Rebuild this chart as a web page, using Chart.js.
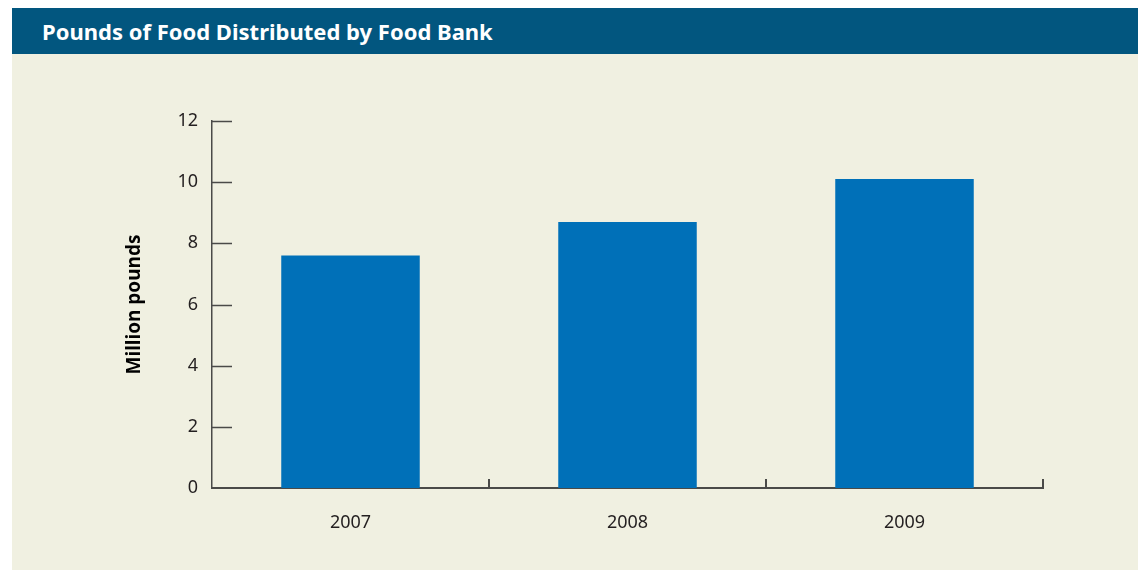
<!DOCTYPE html>
<html>
<head>
<meta charset="utf-8">
<script src="https://cdn.jsdelivr.net/npm/chart.js@4/dist/chart.umd.min.js"></script>
<style>
    body { margin: 0; background: #ffffff; width: 1138px; height: 571px; overflow: hidden; position: relative; }
    #panel { position: absolute; left: 12px; top: 8px; width: 1126px; height: 562px; background: #f0f0e1; }
    #titulo {
        position: absolute; left: 12px; top: 8px; width: 1126px; height: 46px;
        background: #02567f; color: #ffffff;
        font-family: 'Noto Sans', sans-serif; font-weight: bold; font-size: 22px;
        line-height: 46px; box-sizing: border-box; padding-left: 30px;
    }
    #grafico { position: absolute; left: 0; top: 0; }
</style>
</head>
<body>
<div id="panel"></div>
<div id="titulo">Pounds of Food Distributed by Food Bank</div>
<canvas id="grafico" width="1138" height="571"></canvas>
<script>
// dados
const anos = ['2007', '2008', '2009']
const milhoes_libras = [7.6, 8.7, 10.1]
const ticks_y = [0, 2, 4, 6, 8, 10, 12]

const cor_eixo = '#4a4a48'
const cor_texto = '#231f20'

// tracinhos para dentro (y) e para cima (x)
const tracos_internos = {
    id: 'tracos_internos',
    afterDraw(chart) {
        const ctx = chart.ctx
        const sx = chart.scales.x
        const sy = chart.scales.y
        const area = chart.chartArea
        ctx.save()
        ctx.strokeStyle = cor_eixo
        ctx.lineWidth = 1.5
        ticks_y.forEach(v => {
            if (v == 0) return
            const y = Math.round(sy.getPixelForValue(v)) + 0.5
            ctx.beginPath()
            ctx.moveTo(area.left, y)
            ctx.lineTo(area.left + 20, y)
            ctx.stroke()
        })
        ctx.lineWidth = 2
        for (let i = 1; i <= anos.length; i++) {
            const x = Math.round(sx.getPixelForValue(i - 0.5))
            ctx.beginPath()
            ctx.moveTo(x, area.bottom)
            ctx.lineTo(x, area.bottom - 9)
            ctx.stroke()
        }
        ctx.restore()
    }
}

const config = {
    type: 'bar',
    data: {
        labels: anos,
        datasets: [{
            data: milhoes_libras,
            backgroundColor: '#0070b8',
            borderWidth: 0,
            categoryPercentage: 1,
            barPercentage: 0.5
        }]
    },
    options: {
        responsive: false,
        animation: false,
        layout: { padding: { top: 121, right: 95, left: 0, bottom: 0 } },
        plugins: { legend: { display: false }, tooltip: { enabled: false } },
        scales: {
            x: {
                grid: { display: false, drawTicks: false },
                border: { display: true, color: cor_eixo, width: 2 },
                ticks: { color: cor_texto, padding: 24, font: { family: 'Noto Sans', size: 18 } },
                afterFit(scale) { scale.height = 83 }
            },
            y: {
                min: 0,
                max: 12,
                afterBuildTicks(scale) { scale.ticks = ticks_y.map(v => ({ value: v })) },
                grid: { display: false, drawTicks: false },
                border: { display: true, color: cor_eixo, width: 1.5 },
                ticks: { color: cor_texto, padding: 14, font: { family: 'Noto Sans', size: 18 } },
                title: {
                    display: true,
                    text: 'Million pounds',
                    color: '#000000',
                    font: { family: 'Noto Sans', size: 19, weight: 'bold' },
                    padding: { top: 123, bottom: 0 }
                },
                afterFit(scale) { scale.width = 212 }
            }
        }
    },
    plugins: [tracos_internos]
}

new Chart(document.getElementById('grafico'), config)
</script>
</body>
</html>
